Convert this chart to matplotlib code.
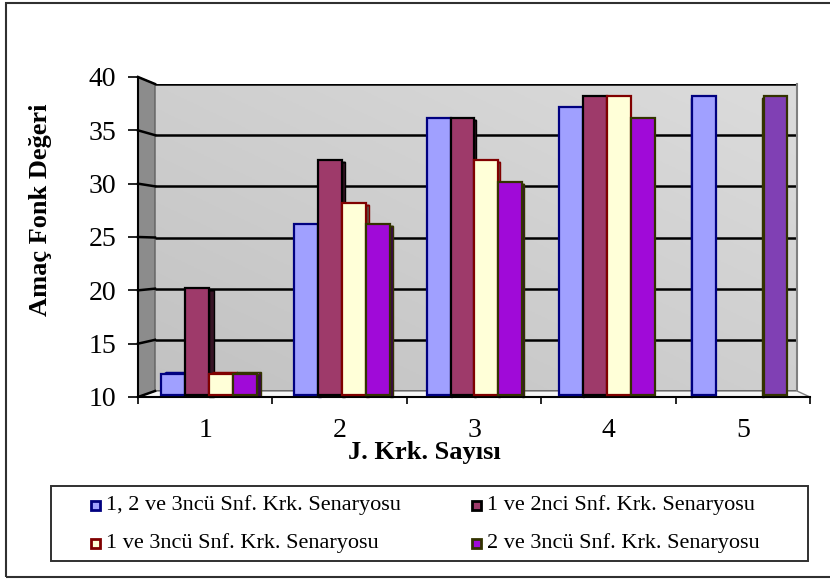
import numpy as np
import matplotlib.pyplot as plt
from matplotlib.patches import Polygon, Rectangle
from matplotlib.lines import Line2D
from matplotlib.colors import LinearSegmentedColormap, to_rgb

categories = [1, 2, 3, 4, 5]
series_names = [
    "1, 2 ve 3ncü Snf. Krk. Senaryosu",
    "1 ve 2nci Snf. Krk. Senaryosu",
    "1 ve 3ncü Snf. Krk. Senaryosu",
    "2 ve 3ncü Snf. Krk. Senaryosu",
]
s1 = [12, 26, 36, 37, 38]
s2 = [20, 32, 36, 38, np.nan]
s3 = [12, 28, 32, 38, np.nan]
s4 = [12, 26, 30, 36, 38]
series = [s1, s2, s3, s4]
y_ticks = [10, 15, 20, 25, 30, 35, 40]

face_colors = ["#a0a0ff", "#9e3a6a", "#ffffd8", "#a00ad8"]
edge_colors = ["#000080", "#000000", "#800000", "#333300"]
odd_color = "#8040b4"  # 5. kategorideki son cubuk farkli renkte

plt.rcParams["font.family"] = ["Liberation Serif", "DejaVu Serif"]

W, H = 830, 579
fig = plt.figure(figsize=(W / 100, H / 100), dpi=100)


def fx(x):
    return x / W


def fy(y):
    return 1 - y / H


# dis cerceve
fig.patches.append(Rectangle((fx(6), fy(577)), 1.0, fy(3) - fy(577),
                             transform=fig.transFigure, fill=False,
                             edgecolor="#303030", lw=1.5, zorder=0))

# arka duvar
wall_l, wall_r, wall_t, wall_b = 155, 797, 84, 391
wall = fig.add_axes([fx(wall_l), fy(wall_b), (wall_r - wall_l) / W, (wall_b - wall_t) / H])
wall.set_xlim(0, 1)
wall.set_ylim(10, 40)
wall.set_axis_off()
gx, gy = np.meshgrid(np.linspace(0, 1, 200), np.linspace(0, 1, 200))
grad = (gx + gy) / 2
wall_cmap = LinearSegmentedColormap.from_list("wall", ["#c2c2c2", "#dcdcdc"])
wall.imshow(grad, extent=[0, 1, 10, 40], origin="lower",
            cmap=wall_cmap, aspect="auto", zorder=0)
for v in y_ticks:
    wall.axhline(v, color="black", lw=1.8, zorder=1)
wall.plot([1, 1], [10, 40], color="#808080", lw=1.5, clip_on=False)

# yan duvar ve zemin
front_l, front_r, front_t, front_b = 138, 810, 77, 397
fig.patches.append(Polygon([(fx(front_l), fy(front_t)), (fx(wall_l), fy(wall_t)),
                            (fx(wall_l), fy(wall_b)), (fx(front_l), fy(front_b))],
                           closed=True, transform=fig.transFigure,
                           facecolor="#8c8c8c", edgecolor="#606060", lw=1, zorder=0.5))
fig.patches.append(Polygon([(fx(front_l), fy(front_b)), (fx(wall_l), fy(wall_b)),
                            (fx(wall_r), fy(wall_b)), (fx(front_r), fy(front_b))],
                           closed=True, transform=fig.transFigure,
                           facecolor="#f6f6f6", edgecolor="#808080", lw=1, zorder=0.5))
for v in y_ticks:
    yf = front_b - (v - 10) / 30 * (front_b - front_t)
    yw = wall_b - (v - 10) / 30 * (wall_b - wall_t)
    fig.lines.append(Line2D([fx(front_l), fx(wall_l)], [fy(yf), fy(yw)],
                            transform=fig.transFigure, color="black", lw=1.8, zorder=0.6))

# on eksen (cubuklar bu eksende)
front = fig.add_axes([fx(front_l), fy(front_b), (front_r - front_l) / W, (front_b - front_t) / H])
front.set_zorder(5)
front.patch.set_visible(False)
front.set_xlim(0.5, 5.5)
front.set_ylim(10, 40)

# perspektif: cubuklar on eksenden biraz iceride
depth_scale, depth_center = 0.986, 3.26
width = 0.181 * depth_scale
px_x = (front_r - front_l) / 5
px_y = (front_b - front_t) / 30
x = depth_center + (np.array(categories, dtype=float) - depth_center) * depth_scale
for i, vals in enumerate(series):
    offset = (i - 1.5) * width
    for j, v in enumerate(vals):
        if np.isnan(v):
            continue
        fc = odd_color if (i == 3 and j == 4) else face_colors[i]
        ec = edge_colors[i]
        x0 = x[j] + offset - width / 2
        x1 = x0 + width
        bar_px = front_l + (x[j] + offset - 0.5) * px_x
        dx = (615 - bar_px) * 0.011 / px_x
        dy = max(0.0, 20 - v) * 0.4 / px_y
        dark = tuple(c * 0.35 for c in to_rgb(fc))
        xs = x1 if dx > 0 else x0
        side = Polygon([(xs, 10), (xs + dx, 10), (xs + dx, v + dy), (xs, v)],
                       facecolor=dark, edgecolor=ec, lw=1, zorder=2, clip_on=False)
        top = Polygon([(x0, v), (x0 + dx, v + dy), (x1 + dx, v + dy), (x1, v)],
                      facecolor=fc, edgecolor=ec, lw=1, zorder=2, clip_on=False)
        front.add_patch(side)
        front.add_patch(top)
    heights = np.nan_to_num(np.array(vals, dtype=float), nan=10.0) - 10
    colors = [odd_color if (i == 3 and j == 4) else face_colors[i] for j in range(5)]
    bars = front.bar(x + offset, heights, width, bottom=10.2,
                     color=colors, edgecolor=edge_colors[i], lw=1.6, zorder=3)
    for b, v in zip(bars, vals):
        if np.isnan(v):
            b.set_visible(False)

for s in ["top", "right"]:
    front.spines[s].set_visible(False)
front.spines["left"].set_linewidth(1.5)
front.spines["bottom"].set_linewidth(1.5)
front.set_yticks(y_ticks)
front.set_xticks(categories)
front.set_xticks(np.arange(0.5, 6, 1), minor=True)
front.tick_params(axis="y", direction="out", length=7.5, width=1.2, labelsize=20, pad=8)
front.tick_params(axis="x", which="major", length=0, labelsize=20, pad=15)
front.tick_params(axis="x", which="minor", direction="out", length=5, width=1.2)

fig.text(fx(40), fy(210), "Amaç Fonk Değeri", rotation=90, ha="center", va="center",
         fontsize=19, fontweight="bold")
fig.text(fx(424), fy(452), "J. Krk. Sayısı", ha="center", va="center",
         fontsize=19, fontweight="bold")

# lejant
fig.patches.append(Rectangle((fx(51), fy(561)), (808 - 51) / W, (561 - 486) / H,
                             transform=fig.transFigure, facecolor="white",
                             edgecolor="#303030", lw=1.4, zorder=1))
leg_pos = [(95, 505), (476, 505), (95, 543), (476, 543)]
for (lx, ly), name, fc, ec in zip(leg_pos, series_names, face_colors, edge_colors):
    fig.patches.append(Rectangle((fx(lx - 4.5), fy(ly + 4.5)), 9 / W, 9 / H,
                                 transform=fig.transFigure, facecolor=fc,
                                 edgecolor=ec, lw=2, zorder=2))
    fig.text(fx(lx + 11), fy(ly), name, ha="left", va="center", fontsize=16)

fig.savefig("out.png", dpi=100)
